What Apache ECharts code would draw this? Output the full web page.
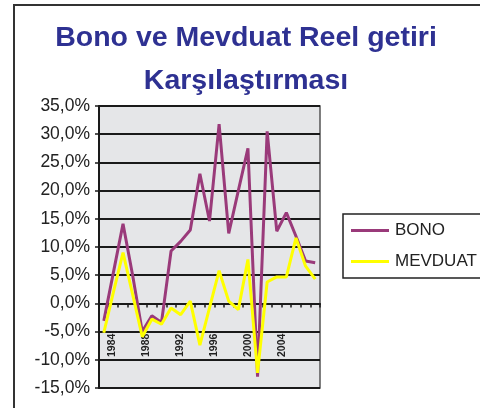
<!DOCTYPE html>
<html>
<head>
<meta charset="utf-8">
<script src="https://cdn.jsdelivr.net/npm/echarts@6/dist/echarts.min.js"></script>
<style>
  html, body { margin: 0; padding: 0; background: #fff; }
  #chart { width: 480px; height: 408px; }
</style>
</head>
<body>
<div id="chart"></div>
<script>
// data points (one per year, 23 points)
const years = ['1984', '1985', '1986', '1987', '1988', '1989', '1990', '1991', '1992', '1993', '1994', '1995',
    '1996', '1997', '1998', '1999', '2000', '2001', '2002', '2003', '2004', '2005', '2006'];
const bono = [-3.1, 5.5, 14.1, 5.0, -5.0, -2.2, -3.4, 9.3, 11.0, 13.0, 23.0, 14.6,
    31.8, 12.4, 20.0, 27.5, -13.0, 30.5, 12.8, 16.1, 11.9, 7.5, 7.2];
const mevduat = [-5.2, 2.0, 9.0, 1.6, -5.9, -2.8, -3.7, -0.8, -2.0, 0.4, -7.4, -0.8,
    5.8, 0.4, -1.1, 7.8, -12.3, 3.8, 4.7, 4.7, 11.6, 6.6, 4.3];

// axis tick labels as they sit under the zero line
const tickYears = ['1983', '1984', '1985', '1986', '1987', '1988', '1989', '1990', '1991', '1992', '1993', '1994', '1995',
    '1996', '1997', '1998', '1999', '2000', '2001', '2002', '2003', '2004', '2005', '2006', '2007', '2008'];
const shownYears = ['1984', '1988', '1992', '1996', '2000', '2004'];

const FONT = '"Liberation Sans", Arial, sans-serif';

const chart = echarts.init(document.getElementById('chart'), null, { renderer: 'canvas' });

const option = {
    animation: false,
    title: {
        text: 'Bono ve Mevduat Reel getiri\nKarşılaştırması',
        left: 246,
        top: 16.5,
        textAlign: 'center',
        padding: 0,
        textStyle: {
            fontFamily: FONT,
            fontSize: 28.5,
            fontWeight: 'bold',
            color: '#2e3192',
            lineHeight: 43,
        },
    },
    graphic: [
        {
            type: 'rect',
            shape: { x: 14, y: 5, width: 520, height: 480 },
            style: { fill: 'none', stroke: '#333', lineWidth: 2 },
            silent: true,
        },
    ],
    legend: {
        data: ['BONO', 'MEVDUAT'],
        orient: 'vertical',
        left: 343,
        top: 214,
        padding: [6.5, 20, 6.5, 8],
        itemGap: 11,
        itemWidth: 38,
        itemHeight: 3,
        icon: 'rect',
        borderColor: '#222',
        borderWidth: 1.5,
        textStyle: { fontFamily: FONT, fontSize: 17, color: '#222', lineHeight: 20, padding: [0, 0, 0, 1] },
    },
    grid: {
        left: 99,
        top: 106,
        right: 160,
        bottom: 20,
        show: true,
        backgroundColor: '#e5e6e8',
        borderColor: '#555',
        borderWidth: 1.5,
    },
    xAxis: [
        {
            type: 'category',
            data: years,
            boundaryGap: true,
            axisLine: { onZero: true, lineStyle: { color: '#1a1a1a', width: 2 } },
            axisTick: { show: true, interval: 0, length: 4, lineStyle: { color: '#1a1a1a', width: 1.5 } },
            axisLabel: { show: false },
            splitLine: { show: false },
        },
        {
            type: 'category',
            data: tickYears,
            boundaryGap: true,
            position: 'bottom',
            axisLine: { show: false, onZero: false },
            axisTick: { show: false },
            axisLabel: {
                inside: true,
                rotate: 90,
                margin: 31,
                interval: (i, v) => shownYears.includes(v),
                fontFamily: FONT,
                fontSize: 10.5,
                fontWeight: 'bold',
                color: '#222',
            },
            splitLine: { show: false },
        },
    ],
    yAxis: {
        type: 'value',
        min: -15,
        max: 35,
        interval: 5,
        axisLine: { show: true, lineStyle: { color: '#1a1a1a', width: 2 } },
        axisTick: { show: true, length: 4, lineStyle: { color: '#1a1a1a', width: 1.5 } },
        axisLabel: {
            margin: 9,
            fontFamily: FONT,
            fontSize: 17.5,
            color: '#222',
            formatter: (v) => v.toFixed(1).replace('.', ',') + '%',
        },
        splitLine: { lineStyle: { color: '#1a1a1a', width: 2 } },
    },
    series: [
        {
            name: 'BONO',
            type: 'line',
            xAxisIndex: 0,
            data: bono,
            showSymbol: false,
            symbol: 'none',
            lineStyle: { color: '#9a3a7a', width: 3 },
            itemStyle: { color: '#9a3a7a' },
        },
        {
            name: 'MEVDUAT',
            type: 'line',
            xAxisIndex: 0,
            data: mevduat,
            showSymbol: false,
            symbol: 'none',
            lineStyle: { color: '#ffff00', width: 3 },
            itemStyle: { color: '#ffff00' },
        },
    ],
};

chart.setOption(option);
</script>
</body>
</html>
